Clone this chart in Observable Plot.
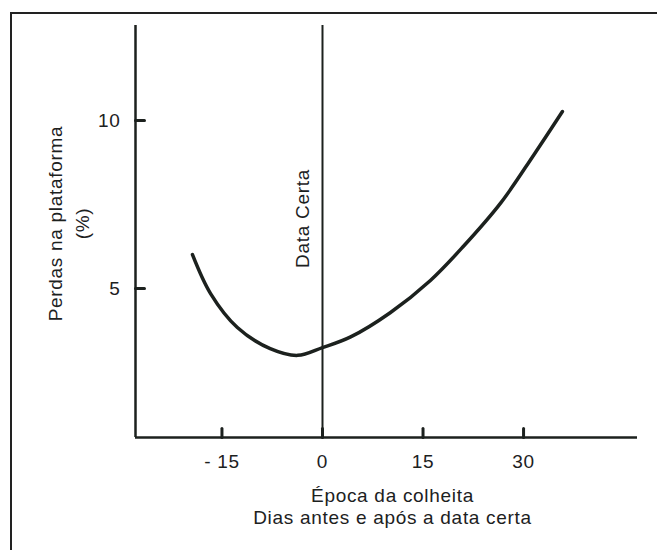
<!DOCTYPE html>
<html>
<head>
<meta charset="utf-8">
<script src="https://cdn.jsdelivr.net/npm/d3@7"></script>
<script src="https://cdn.jsdelivr.net/npm/@observablehq/plot@0.6"></script>
<style>
  html, body { margin: 0; padding: 0; background: #fff; }
  #wrap { position: relative; width: 657px; height: 550px; }
  #border { position: absolute; left: 10px; top: 12px; right: -4px; bottom: -4px;
            border-top: 2px solid #222; border-left: 2px solid #222; pointer-events: none; }
  svg text { letter-spacing: 0.7px; }
</style>
</head>
<body>
<div id="wrap"><div id="border"></div></div>
<script>
// Data
const days   = [-19.4, -16.7, -12.7, -7.8, -3.7, 0, 4.2, 10.1, 16.1, 21.0, 26.6, 31.5, 35.8];
const losses = [6.01, 4.85, 3.84, 3.21, 3.01, 3.24, 3.56, 4.28, 5.24, 6.25, 7.55, 8.97, 10.27];
const xTicks = [-15, 0, 15, 30];
const yTicks = [5, 10];
const markerDay = [0];
const markerLabel = "Data Certa";
const xTitle = "Época da colheita";
const xSubtitle = "Dias antes e após a data certa";
const yTitle = "Perdas na plataforma";
const yUnit = "(%)";

const curve = days.map((d, i) => ({day: d, loss: losses[i]}));
const xDomain = [-27.9, 47.0];
const yDomain = [0.565, 12.83];
const ink = "#1c211e";
const font = "'Liberation Sans', Arial, Helvetica, sans-serif";
const tickShape = {draw(context, l) { context.moveTo(0, 0); context.lineTo(0, -l); }};

const chart = Plot.plot({
  width: 657,
  height: 550,
  marginLeft: 135,
  marginRight: 20,
  marginTop: 25,
  marginBottom: 113,
  style: {fontFamily: font, color: ink, background: "transparent", overflow: "visible"},
  x: {domain: xDomain},
  y: {domain: yDomain},
  marks: [
    Plot.ruleY([yDomain[0]], {stroke: ink, strokeWidth: 2.5}),
    Plot.ruleX([xDomain[0]], {stroke: ink, strokeWidth: 2.5}),
    Plot.ruleX(markerDay, {stroke: ink, strokeWidth: 2}),
    // inward ticks
    Plot.vector(xTicks, {x: d => d, y: () => yDomain[0], length: 9, anchor: "start",
      shape: tickShape, stroke: ink, strokeWidth: 3}),
    Plot.vector(yTicks, {x: () => xDomain[0], y: d => d, length: 9, rotate: 90, anchor: "start",
      shape: tickShape, stroke: ink, strokeWidth: 3}),
    Plot.axisX(xTicks, {anchor: "bottom", tickSize: 0, tickPadding: 17,
      fontSize: 19, tickFormat: d => d < 0 ? "- " + Math.abs(d) : String(d), label: null, fill: ink}),
    Plot.axisY(yTicks, {anchor: "left", tickSize: 0, tickPadding: 15,
      fontSize: 19, label: null, fill: ink}),
    Plot.line(curve, {x: "day", y: "loss", curve: "catmull-rom", stroke: ink, strokeWidth: 3.5, strokeLinecap: "round"}),
    Plot.text([markerLabel], {x: markerDay[0], frameAnchor: "middle", dy: -13, dx: -20, rotate: -90,
      textAnchor: "middle", fontSize: 19, fill: ink, text: d => d}),
    Plot.text([xTitle], {frameAnchor: "bottom", dx: 6, dy: 58, lineAnchor: "middle", textAnchor: "middle",
      fontSize: 19, fill: ink, text: d => d, style: {wordSpacing: "8px"}}),
    Plot.text([xSubtitle], {frameAnchor: "bottom", dx: 6, dy: 80, lineAnchor: "middle", textAnchor: "middle",
      fontSize: 19, fill: ink, text: d => d}),
    Plot.text([yTitle], {frameAnchor: "left", dx: -80, dy: -8, rotate: -90, lineAnchor: "middle", textAnchor: "middle",
      fontSize: 19, fill: ink, text: d => d}),
    Plot.text([yUnit], {frameAnchor: "left", dx: -53, dy: -8, rotate: -90, lineAnchor: "middle", textAnchor: "middle",
      fontSize: 19, fill: ink, text: d => d})
  ]
});
document.getElementById("wrap").prepend(chart);
</script>
</body>
</html>
